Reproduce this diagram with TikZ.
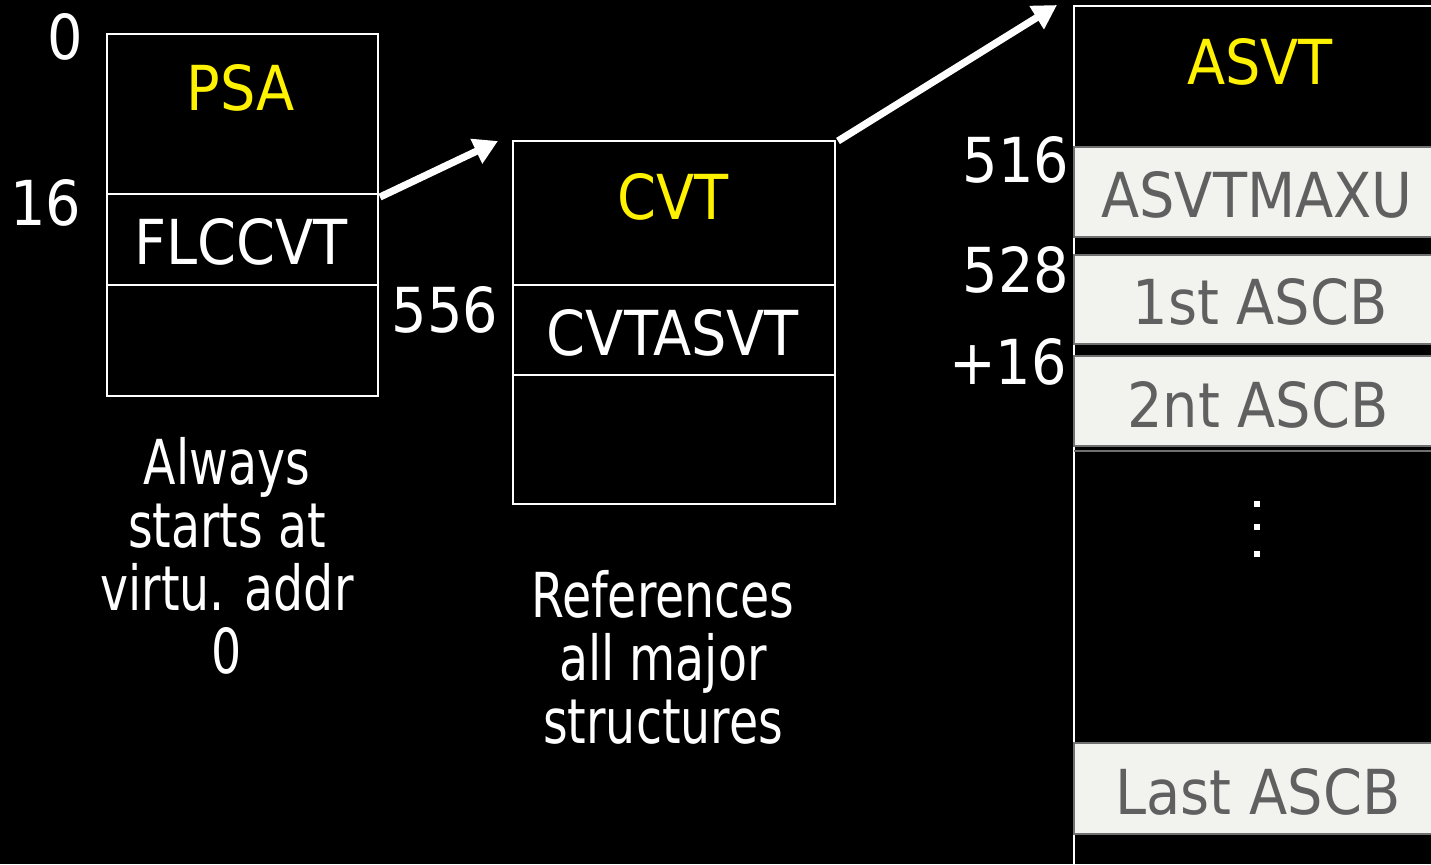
\documentclass[tikz,border=0pt]{standalone}
\usepackage{fontspec}
\setmainfont{DejaVu Sans Condensed}
\newfontfamily\notefont[FakeStretch=0.85]{DejaVu Sans Condensed}
\usetikzlibrary{arrows.meta}
\definecolor{rowfill}{HTML}{F2F2EE}
\definecolor{rowline}{HTML}{707070}
\definecolor{rowtext}{HTML}{606060}
\begin{document}
\begin{tikzpicture}[x=0.5pt,y=-0.5pt,
  lbl/.style={font=\fontsize{31}{32}\selectfont, inner sep=0pt, text=white},
  ttl/.style={lbl, text=yellow},
  rowtxt/.style={lbl, text=rowtext},
  memb/.style={draw=white, line width=1pt, anchor=north west, inner sep=0pt},
  row/.style={draw=rowline, fill=rowfill, line width=1.2pt},
  arr/.style={draw=white, line width=3.6pt, -{Triangle[length=12pt,width=13pt]}},
  note/.style={lbl, align=center, font=\notefont\fontsize{31}{31.5}\selectfont}]
\fill[black] (0,0) rectangle (1431,864);
\useasboundingbox (0,0) rectangle (1431,864);

% PSA
\node[memb, minimum width=135.5pt, minimum height=181pt] (psa) at (106,33) {};
\draw[white, line width=1pt] (106,194) -- (377,194) (106,285) -- (377,285);
\node[ttl] (psat) at (241,88) {PSA};
\node[lbl] (flccvt) at (241,242) {FLCCVT};
\node[lbl] (o0) at (65,37) {0};
\node[lbl] (o16) at (46,203) {16};
\node[note] (psanote) at (227,556) {Always\\starts at\\virtu. addr\\0};

% CVT
\node[memb, minimum width=161pt, minimum height=181.5pt] (cvt) at (512,140) {};
\draw[white, line width=1pt] (512,285) -- (834,285) (512,375) -- (834,375);
\node[ttl] (cvtt) at (673,197) {CVT};
\node[lbl] (cvtasvt) at (673,333) {CVTASVT};
\node[lbl] (o556) at (445,310) {556};
\node[note] (cvtnote) at (663,657) {References\\all major\\structures};

% ASVT
\draw[white, line width=1pt] (1074,870) -- (1074,6) -- (1440,6);
\node[ttl] (asvtt) at (1260,62) {ASVT};
\draw[row] (1074,147) rectangle (1440,237);
\draw[row] (1074,255) rectangle (1440,344);
\draw[row] (1074,356) rectangle (1440,446);
\draw[rowline, line width=1.2pt] (1074,451) -- (1440,451);
\draw[row] (1074,743) rectangle (1440,834);
\node[rowtxt] (maxu) at (1257,195) {ASVTMAXU};
\node[rowtxt] (ascb1) at (1260,302) {1st ASCB};
\node[rowtxt] (ascb2) at (1258,405) {2nt ASCB};
\node[rowtxt] (ascbl) at (1258,792) {Last ASCB};
\node[lbl] (o516) at (1016,160) {516};
\node[lbl] (o528) at (1016,270) {528};
\node[lbl] (o16b) at (1008,362) {+16};
\foreach \yy in {504,527,554} \fill[white] (1254,\yy-3) rectangle (1260,\yy+3);

% arrows
\coordinate (a1s) at (380,197);
\coordinate (a1e) at (498,141);
\coordinate (a2s) at (838,141);
\coordinate (a2e) at (1057,5);
\draw[arr] (a1s) -- (a1e);
\draw[arr] (a2s) -- (a2e);
\end{tikzpicture}
\end{document}
